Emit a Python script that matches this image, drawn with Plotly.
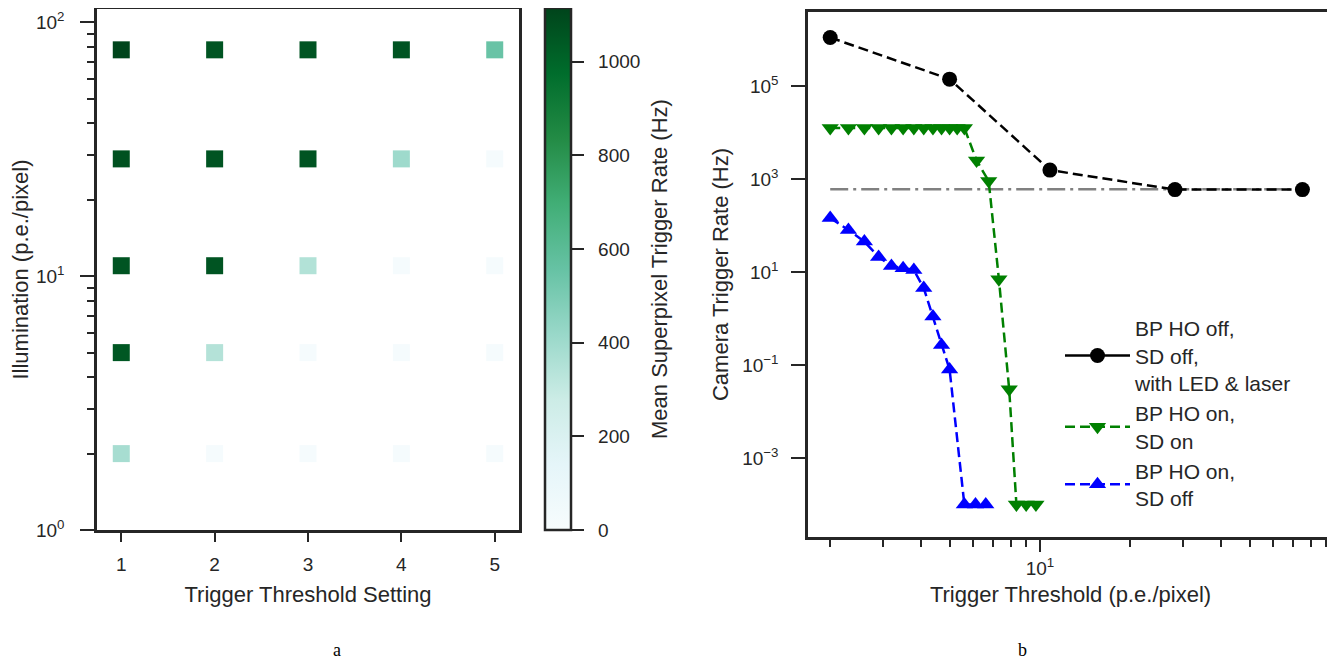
import plotly.graph_objects as go

# ---------------- data ----------------
# left panel: mean superpixel trigger rate (Hz)
settings = [1, 2, 3, 4, 5]
illumination = [2, 5, 11, 29, 78]
rates = [
    [380, 15, 15, 15, 15],        # 2 p.e.
    [1050, 345, 15, 15, 15],      # 5 p.e.
    [1060, 1060, 350, 15, 15],    # 11 p.e.
    [1070, 1060, 1060, 405, 15],  # 29 p.e.
    [1110, 1060, 1060, 1060, 550] # 78 p.e.
]

# right panel: camera trigger rate (Hz)
black_x = [2.0, 5.0, 10.8, 28.2, 75.0]
black_y = [1.1e6, 1.4e5, 1.55e3, 590, 590]

green_x = [2.0, 2.3, 2.6, 2.9, 3.2, 3.5, 3.8, 4.1, 4.4, 4.7, 5.0, 5.3, 5.6,
           6.15, 6.75, 7.3, 7.9, 8.35, 9.0, 9.7]
green_y = [1.25e4] * 13 + [2.5e3, 900, 7.0, 0.03, 1e-4, 1e-4, 1e-4]

blue_x = [2.0, 2.3, 2.6, 2.9, 3.2, 3.5, 3.8, 4.1, 4.4, 4.7, 5.0, 5.6, 6.1, 6.6]
blue_y = [145, 80, 45, 21, 13.5, 12, 11, 4.5, 1.1, 0.27, 0.08, 1e-4, 1e-4, 1e-4]

ref_x = [2.0, 75.0]
ref_y = [600, 600]

cbar_ticks = [0, 200, 400, 600, 800, 1000]
legend_names = ["BP HO off,<br>SD off,<br>with LED & laser",
                "BP HO on,<br>SD on",
                "BP HO on,<br>SD off"]

# ---------------- figure ----------------
OFF = 8                     # page body margin of the html page
W, H = 1335 - OFF, 662 - OFF
FONT = "Liberation Sans, Arial, Helvetica, sans-serif"
SERIF = "Liberation Serif, DejaVu Serif, serif"
AX = "#262626"
TICK = 19
LAB = 22
DASH = "10px,5px"
DASHDOT = "18px,5px,3px,5px"


def fx(a):
    return (a - OFF) / W


def fy(t):
    return 1 - (t - OFF) / H


def px_x(a, b):
    return [fx(a), fx(b)]


def px_y(top, bottom):
    return [fy(bottom), fy(top)]


fig = go.Figure()

sx, sy, sc = [], [], []
for i, ill in enumerate(illumination):
    for j, s in enumerate(settings):
        sx.append(s)
        sy.append(ill)
        sc.append(rates[i][j])

fig.add_trace(go.Scatter(
    x=sx, y=sy, mode="markers", xaxis="x", yaxis="y", showlegend=False,
    marker=dict(symbol="square", size=17, color=sc, colorscale="BuGn",
                cmin=0, cmax=1115, line=dict(width=0),
                colorbar=dict(
                    x=fx(545), xanchor="left", xref="paper",
                    y=fy(530), yanchor="bottom",
                    len=(530 - 8.5) / H, lenmode="fraction",
                    thickness=26, thicknessmode="pixels",
                    outlinewidth=2.5, outlinecolor=AX,
                    tickvals=cbar_ticks,
                    ticktext=["\u00a0\u00a0" + str(v) for v in cbar_ticks],
                    ticks="outside", ticklen=12, tickwidth=2, tickcolor=AX,
                    tickfont=dict(family=FONT, size=TICK, color="#262626"),
                    ypad=0, xpad=0,
                ))))

# right panel
fig.add_trace(go.Scatter(x=ref_x, y=ref_y, mode="lines", xaxis="x2", yaxis="y2",
                         line=dict(color="#808080", width=2.5, dash=DASHDOT),
                         showlegend=False))
fig.add_trace(go.Scatter(x=black_x, y=black_y, mode="lines+markers", xaxis="x2", yaxis="y2",
                         line=dict(color="black", width=2.5, dash=DASH),
                         marker=dict(symbol="circle", size=15, color="black"),
                         showlegend=False))
fig.add_trace(go.Scatter(x=green_x, y=green_y, mode="lines+markers", xaxis="x2", yaxis="y2",
                         line=dict(color="#008000", width=2.5, dash=DASH),
                         marker=dict(symbol="triangle-down", size=15, color="#008000"),
                         name=legend_names[1], legendrank=2))
fig.add_trace(go.Scatter(x=blue_x, y=blue_y, mode="lines+markers", xaxis="x2", yaxis="y2",
                         line=dict(color="#0000ff", width=2.5, dash=DASH),
                         marker=dict(symbol="triangle-up", size=15, color="#0000ff"),
                         name=legend_names[2], legendrank=3))
# legend entry for the black series (solid line in the legend, as in the reference)
fig.add_trace(go.Scatter(x=[None], y=[None], mode="lines+markers", xaxis="x2", yaxis="y2",
                         line=dict(color="black", width=2.5),
                         marker=dict(symbol="circle", size=15, color="black"),
                         name=legend_names[0], legendrank=1))

axis_common = dict(showline=True, linecolor=AX, linewidth=2.5, mirror=True,
                   showgrid=False, zeroline=False, ticks="outside", tickcolor=AX,
                   tickwidth=2, automargin=False,
                   tickfont=dict(family=FONT, size=TICK, color="#262626"))

minor_vals = [2, 3, 4, 5, 6, 7, 8, 9, 20, 30, 40, 50, 60, 70, 80, 90]

fig.update_layout(
    width=W, height=H, margin=dict(l=0, r=0, t=0, b=0, autoexpand=False),
    paper_bgcolor="white", plot_bgcolor="white",
    font=dict(family=FONT, color="#262626"),
    xaxis=dict(domain=px_x(97, 519), range=[0.74, 5.26], tickvals=settings,
               ticklen=9, anchor="y", ticklabelstandoff=6,
               title=dict(text="Trigger Threshold Setting", standoff=14,
                          font=dict(family=FONT, size=LAB)),
               **axis_common),
    yaxis=dict(domain=px_y(9, 530), type="log", range=[0, 2.053],
               tickvals=[1, 10, 100],
               ticktext=["10<sup>0</sup>", "10<sup>1</sup>", "10<sup>2</sup>"],
               ticklen=14, anchor="x", ticklabelstandoff=12,
               minor=dict(tickvals=minor_vals, ticks="outside", ticklen=7,
                          tickcolor=AX, tickwidth=1.5),
               title=dict(text="Illumination (p.e./pixel)", standoff=12,
                          font=dict(family=FONT, size=LAB)),
               **axis_common),
    xaxis2=dict(domain=px_x(808, 1333), type="log", range=[0.227, 1.977],
                tickvals=[10], ticktext=["10<sup>1</sup>"], ticklen=12,
                anchor="y2",
                minor=dict(tickvals=minor_vals, ticks="outside", ticklen=7,
                           tickcolor=AX, tickwidth=1.5),
                title=dict(text="Trigger Threshold (p.e./pixel)", standoff=10,
                           font=dict(family=FONT, size=LAB)),
                **axis_common),
    yaxis2=dict(domain=px_y(12, 537), type="log", range=[-4.70, 6.59],
                tickvals=[1e-3, 1e-1, 1e1, 1e3, 1e5],
                ticktext=["10<sup>\u22123</sup>", "10<sup>\u22121</sup>", "10<sup>1</sup>",
                          "10<sup>3</sup>", "10<sup>5</sup>"],
                ticklen=14, anchor="x2", ticklabelstandoff=9,
                title=dict(text="Camera Trigger Rate (Hz)", standoff=8,
                           font=dict(family=FONT, size=LAB)),
                **axis_common),
    legend=dict(x=fx(1060), y=fy(308), xanchor="left", yanchor="top",
                bgcolor="rgba(0,0,0,0)", borderwidth=0,
                font=dict(family=FONT, size=21, color="#262626"),
                itemwidth=65, tracegroupgap=0),
    annotations=[
        dict(text="Mean Superpixel Trigger Rate (Hz)", textangle=-90,
             x=fx(660), y=fy(269), xref="paper", yref="paper",
             xanchor="center", yanchor="middle", showarrow=False,
             font=dict(family=FONT, size=LAB, color="#262626")),
        dict(text="a", x=fx(337), y=fy(650), xref="paper", yref="paper",
             xanchor="center", yanchor="middle",
             showarrow=False, font=dict(family=SERIF, size=18, color="black")),
        dict(text="b", x=fx(1022), y=fy(650), xref="paper", yref="paper",
             xanchor="center", yanchor="middle",
             showarrow=False, font=dict(family=SERIF, size=18, color="black")),
    ],
)

fig.write_html("out.html")
